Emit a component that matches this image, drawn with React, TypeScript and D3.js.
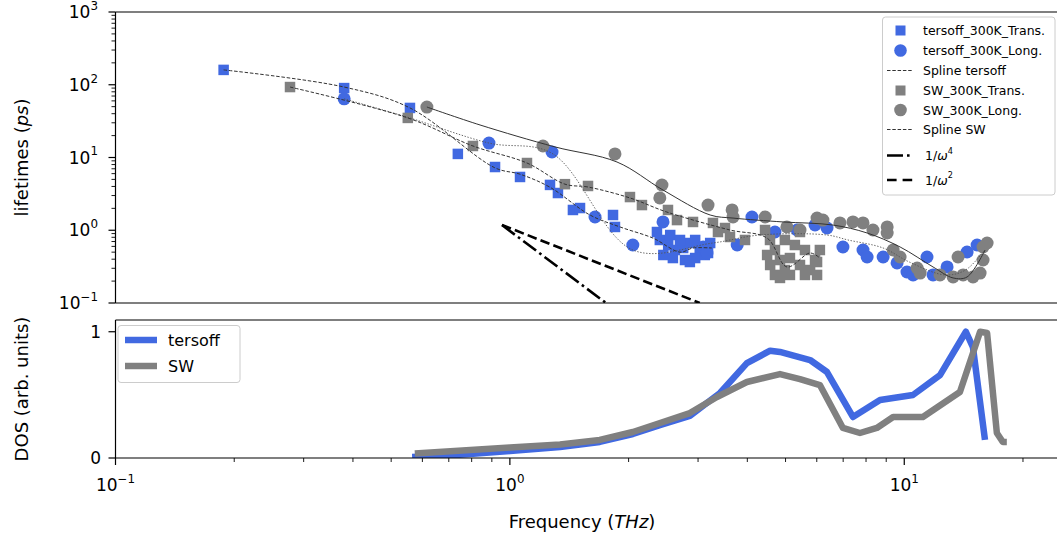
import React from 'react';
import * as d3 from 'd3';

type P = [number, number];

// ---- data: [frequency THz, lifetime ps] ----
const tersoffTrans: P[] = [
  [0.188, 160], [0.38, 90], [0.558, 48], [0.738, 11.2], [0.917, 7.4], [1.061, 5.4],
  [1.264, 4.2], [1.324, 3.25], [1.445, 1.9], [1.506, 2.02], [1.826, 1.62], [1.847, 1.11],
  [2.36, 0.946], [2.4, 0.735], [2.52, 0.627], [2.62, 0.535], [2.75, 0.57], [2.86, 0.668],
  [3.03, 0.57], [3.18, 0.487], [2.45, 0.457], [2.59, 0.415], [2.78, 0.39], [2.95, 0.415],
  [3.12, 0.457], [2.55, 0.86], [2.7, 0.735], [2.95, 0.735], [3.22, 0.668], [2.86, 0.366],
];
const tersoffLong: P[] = [
  [0.38, 64], [0.885, 15.8], [1.279, 11.9], [1.644, 1.52], [2.05, 0.627], [2.445, 1.3],
  [3.09, 0.589], [3.16, 0.487], [3.77, 0.627], [4.11, 1.52], [4.7, 0.946], [5.35, 1.008],
  [5.94, 1.18], [6.37, 1.074], [6.99, 0.589], [7.86, 0.535], [8.05, 0.429], [8.84, 0.429],
  [9.59, 0.355], [10.16, 0.267], [10.53, 0.243], [11.42, 0.429], [11.83, 0.243],
  [12.84, 0.313], [14.43, 0.502], [15.3, 0.627],
];
const swTrans: P[] = [
  [0.277, 93], [0.551, 35], [0.806, 14.4], [1.105, 8.4], [1.379, 4.3], [1.578, 4.06],
  [2.016, 2.86], [2.162, 2.22], [2.517, 1.9], [2.653, 1.38], [2.913, 1.3], [3.273, 1.26],
  [3.511, 1.074], [3.37, 0.946], [3.615, 0.808], [3.946, 0.735], [4.436, 1.008],
  [4.566, 0.735], [4.7, 0.535], [4.84, 0.39], [4.98, 0.284], [5.13, 0.243], [4.7, 0.243],
  [5.44, 0.333], [5.77, 0.284], [6.01, 0.243], [5.28, 0.627], [5.6, 0.535], [5.94, 0.39],
  [4.57, 0.333], [4.98, 0.735], [5.44, 0.946], [6.11, 0.535], [4.49, 0.457], [5.13, 0.415],
  [5.6, 0.243], [4.84, 0.221], [6.01, 0.366],
];
const swLong: P[] = [
  [0.616, 49.4], [1.213, 14.4], [1.847, 11.2], [2.43, 4.19], [2.4, 2.78], [3.18, 2.22],
  [3.66, 1.9], [3.68, 1.52], [4.44, 1.52], [5.04, 1.11], [5.44, 1.008], [6.01, 1.47],
  [6.22, 1.38], [6.87, 1.26], [7.41, 1.3], [7.86, 1.26], [8.33, 1.008], [9.05, 1.11],
  [9.05, 0.917], [9.37, 0.535], [9.76, 0.429], [10.78, 0.303], [10.97, 0.258],
  [12.32, 0.243], [13.3, 0.228], [13.69, 0.429], [14.1, 0.243], [14.94, 0.228],
  [15.84, 0.589], [16.22, 0.668], [15.84, 0.39], [15.57, 0.258],
];

const splineTersoffTrans: P[] = [
  [0.188, 160], [0.38, 93], [0.558, 48], [0.917, 7.2], [1.061, 5.9], [1.264, 3.9],
  [1.596, 1.62], [1.902, 1.11], [2.306, 0.78], [2.7, 0.5], [2.91, 0.57], [3.25, 0.57],
];
const splineTersoffLong: P[] = [
  [0.38, 64], [0.548, 36], [0.885, 15.8], [1.279, 11.4], [2.05, 0.535], [3.27, 0.668],
  [4.3, 0.86], [6.37, 0.86], [7.2, 0.735], [8.84, 0.57], [10.3, 0.366], [12.7, 0.243],
  [14.3, 0.284], [16.0, 0.535],
];
const splineSwTrans: P[] = [
  [0.277, 93], [0.551, 35], [0.806, 14.4], [1.105, 8.4], [1.379, 4.3], [1.578, 3.93],
  [2.016, 2.78], [2.5, 1.78], [3.615, 1.008], [4.49, 0.78], [5.04, 0.313], [5.77, 0.487],
  [6.11, 0.415],
];
const splineSwLong: P[] = [
  [0.616, 49.4], [0.84, 28], [1.3, 14], [1.869, 8.67], [2.445, 3.57], [3.22, 1.62], [3.68, 1.47],
  [4.93, 1.3], [6.59, 1.18], [8.05, 0.917], [9.76, 0.589], [11.83, 0.313], [13.3, 0.221],
  [14.43, 0.228], [16.03, 0.535],
];

const omega4: P[] = [[0.955, 1.18], [1.753, 0.1]];
const omega2: P[] = [[0.955, 1.18], [3.03, 0.1]];

// ---- DOS: [frequency THz, DOS] ----
const dosTersoff: P[] = [
  [0.565, 0.008], [0.705, 0.02], [1.0, 0.055], [1.34, 0.087], [1.69, 0.127], [2.05, 0.19],
  [2.4, 0.261], [2.86, 0.333], [3.41, 0.515], [3.99, 0.752], [4.57, 0.85], [4.84, 0.84],
  [5.77, 0.776], [6.37, 0.681], [7.41, 0.325], [8.68, 0.459], [10.52, 0.499],
  [12.32, 0.657], [14.33, 1.0], [14.93, 0.879], [16.02, 0.143],
];
const dosSW: P[] = [
  [0.574, 0.036], [1.0, 0.083], [1.34, 0.107], [1.69, 0.143], [2.05, 0.206], [2.36, 0.269],
  [2.86, 0.356], [3.35, 0.483], [3.99, 0.602], [4.84, 0.665], [5.44, 0.625], [6.11, 0.578],
  [6.99, 0.238], [7.72, 0.198], [8.52, 0.238], [9.37, 0.325], [11.15, 0.325],
  [13.84, 0.523], [15.57, 1.0], [16.22, 0.99], [17.17, 0.198], [17.78, 0.127], [18.2, 0.127],
];

const xMajorTicks = [0.1, 1, 10];
const xMajorExps = ['\u22121', '0', '1'];
const yMajorTicks = [0.1, 1, 10, 100, 1000];
const yMajorExps = ['\u22121', '0', '1', '2', '3'];
const dosTicks = [0, 1];

const BLUE = '#4169e1';
const GRAY = '#808080';
const FONT = 'DejaVu Sans, sans-serif';

const X0 = 115.5, X1 = 1061.2;
const TY0 = 12, TY1 = 303;
const BY0 = 320, BY1 = 458;

function minorLog(lo: number, hi: number): number[] {
  const out: number[] = [];
  for (let d = Math.floor(Math.log10(lo)); d <= Math.ceil(Math.log10(hi)); d++) {
    for (let k = 2; k <= 9; k++) {
      const v = k * Math.pow(10, d);
      if (v > lo && v < hi) out.push(v);
    }
  }
  return out;
}

function Pow10({ x, y, exp, anchor, size }: { x: number; y: number; exp: string; anchor: string; size: number }) {
  return (
    <text x={x} y={y} textAnchor={anchor as any} fontSize={size} fontFamily={FONT} fill="#000">
      <tspan>10</tspan>
      <tspan dy={-size * 0.48} fontSize={size * 0.7}>{exp}</tspan>
    </text>
  );
}

export default function App() {
  const x = d3.scaleLog().domain([0.1, 25]).range([X0, X1]);
  const yT = d3.scaleLog().domain([0.1, 1000]).range([TY1, TY0]);
  const yB = d3.scaleLinear().domain([0, 1.093]).range([BY1, BY0]);

  const lineT = d3.line<P>().x(d => x(d[0])).y(d => yT(d[1])).curve(d3.curveCatmullRom.alpha(0.5));
  const straightT = d3.line<P>().x(d => x(d[0])).y(d => yT(d[1]));
  const lineB = d3.line<P>().x(d => x(d[0])).y(d => yB(d[1]));

  const SQ = 10.5;
  const R = 6.5;

  const fs = 17;

  const yMinor = minorLog(0.1, 1000);
  const xMinor = minorLog(0.1, 25);

  const squares = (data: P[], color: string) =>
    data.map((d, i) => (
      <rect key={i} x={x(d[0]) - SQ / 2} y={yT(d[1]) - SQ / 2} width={SQ} height={SQ} fill={color} />
    ));
  const circles = (data: P[], color: string) =>
    data.map((d, i) => <circle key={i} cx={x(d[0])} cy={yT(d[1])} r={R} fill={color} />);

  const legY = [30.5, 50.5, 70.5, 90.5, 110, 129.5, 155.5, 180];
  const lfs = 12.5;
  const lx = 900.5;
  const ltx = 923;

  return (
    <svg width={1057} height={541} style={{ position: 'absolute', left: 0, top: 0, background: '#fff' }}
      xmlns="http://www.w3.org/2000/svg">
      <defs>
        <clipPath id="clipTop">
          <rect x={X0} y={TY0} width={X1 - X0} height={TY1 - TY0} />
        </clipPath>
        <clipPath id="clipBot">
          <rect x={X0} y={BY0} width={X1 - X0} height={BY1 - BY0} />
        </clipPath>
      </defs>
      <rect x={0} y={0} width={1057} height={541} fill="#fff" />

      {/* ---------- TOP PANEL ---------- */}
      <g clipPath="url(#clipTop)">
        {squares(tersoffTrans, BLUE)}
        {circles(tersoffLong, BLUE)}
        {squares(swTrans, GRAY)}
        {circles(swLong, GRAY)}
        <path d={lineT(splineTersoffTrans) || ''} fill="none" stroke="#333" strokeWidth={1} strokeDasharray="3.5,1.8" />
        <path d={lineT(splineTersoffLong) || ''} fill="none" stroke="#555" strokeWidth={0.9} strokeDasharray="1.4,1.6" />
        <path d={lineT(splineSwTrans) || ''} fill="none" stroke="#333" strokeWidth={1} strokeDasharray="3.5,1.8" />
        <path d={lineT(splineSwLong) || ''} fill="none" stroke="#333" strokeWidth={1} />
        <path d={straightT(omega4) || ''} fill="none" stroke="#000" strokeWidth={2.6} strokeDasharray="16,4,2.6,4" />
        <path d={straightT(omega2) || ''} fill="none" stroke="#000" strokeWidth={2.6} strokeDasharray="9.6,4.2" />
      </g>

      {/* spines */}
      <g stroke="#000" strokeWidth={1.2} fill="none">
        <line x1={X0} y1={TY0} x2={X1} y2={TY0} />
        <line x1={X0} y1={TY1} x2={X1} y2={TY1} />
        <line x1={X0} y1={TY0} x2={X0} y2={TY1} />
        <line x1={X1} y1={TY0} x2={X1} y2={TY1} />
      </g>
      {/* y ticks top */}
      <g stroke="#000">
        {yMajorTicks.map((t, i) => (
          <line key={'ym' + i} x1={X0 - 7} x2={X0} y1={yT(t)} y2={yT(t)} strokeWidth={1.2} />
        ))}
        {yMinor.map((t, i) => (
          <line key={'yn' + i} x1={X0 - 4} x2={X0} y1={yT(t)} y2={yT(t)} strokeWidth={0.9} />
        ))}
      </g>
      {yMajorTicks.map((t, i) => (
        <Pow10 key={'yl' + i} x={98} y={yT(t) + fs * 0.36} exp={yMajorExps[i]} anchor="end" size={fs} />
      ))}
      <text transform={`translate(28,${(TY0 + TY1) / 2}) rotate(-90)`} textAnchor="middle"
        fontSize={18} fontFamily={FONT}>
        lifetimes (<tspan fontStyle="italic">ps</tspan>)
      </text>

      {/* top legend */}
      <rect x={882.5} y={17} width={172.5} height={178} rx={3} fill="#fff" fillOpacity={0.8} stroke="#ccc" strokeWidth={1} />
      <rect x={lx - 5} y={legY[0] - 5} width={10} height={10} fill={BLUE} />
      <circle cx={lx} cy={legY[1]} r={6.3} fill={BLUE} />
      <line x1={887} x2={913} y1={legY[2]} y2={legY[2]} stroke="#333" strokeWidth={1} strokeDasharray="3.5,1.8" />
      <rect x={lx - 5} y={legY[3] - 5} width={10} height={10} fill={GRAY} />
      <circle cx={lx} cy={legY[4]} r={6.3} fill={GRAY} />
      <line x1={887} x2={913} y1={legY[5]} y2={legY[5]} stroke="#333" strokeWidth={1} strokeDasharray="3.5,1.8" />
      <line x1={887} x2={913} y1={legY[6]} y2={legY[6]} stroke="#000" strokeWidth={2.6} strokeDasharray="16,4,2.6,4" />
      <line x1={887} x2={913} y1={legY[7]} y2={legY[7]} stroke="#000" strokeWidth={2.6} strokeDasharray="9.6,6" />
      {['tersoff_300K_Trans.', 'tersoff_300K_Long.', 'Spline tersoff', 'SW_300K_Trans.', 'SW_300K_Long.', 'Spline SW'].map((s, i) => (
        <text key={'lt' + i} x={ltx} y={legY[i] + lfs * 0.36} fontSize={lfs} fontFamily={FONT} fill="#000">{s}</text>
      ))}
      <text x={ltx + 2} y={legY[6] + lfs * 0.36} fontSize={lfs} fontFamily={FONT}>
        1/<tspan fontStyle="italic">ω</tspan><tspan dy={-lfs * 0.5} fontSize={lfs * 0.65}>4</tspan>
      </text>
      <text x={ltx + 2} y={legY[7] + lfs * 0.36} fontSize={lfs} fontFamily={FONT}>
        1/<tspan fontStyle="italic">ω</tspan><tspan dy={-lfs * 0.5} fontSize={lfs * 0.65}>2</tspan>
      </text>

      {/* ---------- BOTTOM PANEL ---------- */}
      <g clipPath="url(#clipBot)">
        <path d={lineB(dosTersoff) || ''} fill="none" stroke={BLUE} strokeWidth={6.5} strokeLinejoin="round" />
        <path d={lineB(dosSW) || ''} fill="none" stroke={GRAY} strokeWidth={6.5} strokeLinejoin="round" />
      </g>
      <g stroke="#000" strokeWidth={1.2} fill="none">
        <line x1={X0} y1={BY0} x2={X1} y2={BY0} />
        <line x1={X0} y1={BY1} x2={X1} y2={BY1} />
        <line x1={X0} y1={BY0} x2={X0} y2={BY1} />
        <line x1={X1} y1={BY0} x2={X1} y2={BY1} />
      </g>
      <g stroke="#000">
        {dosTicks.map((t, i) => (
          <line key={'dt' + i} x1={X0 - 7} x2={X0} y1={yB(t)} y2={yB(t)} strokeWidth={1.2} />
        ))}
        {xMajorTicks.map((t, i) => (
          <line key={'xm' + i} x1={x(t)} x2={x(t)} y1={BY1} y2={BY1 + 7} strokeWidth={1.2} />
        ))}
        {xMinor.map((t, i) => (
          <line key={'xn' + i} x1={x(t)} x2={x(t)} y1={BY1} y2={BY1 + 4} strokeWidth={0.9} />
        ))}
      </g>
      {dosTicks.map((t, i) => (
        <text key={'dl' + i} x={101} y={yB(t) + fs * 0.36} textAnchor="end" fontSize={fs} fontFamily={FONT}>{t}</text>
      ))}
      {xMajorTicks.map((t, i) => (
        <Pow10 key={'xl' + i} x={x(t)} y={491} exp={xMajorExps[i]} anchor="middle" size={fs} />
      ))}
      <text transform={`translate(28,${(BY0 + BY1) / 2}) rotate(-90)`} textAnchor="middle"
        fontSize={18} fontFamily={FONT}>
        DOS (arb. units)
      </text>
      <text x={582} y={528} textAnchor="middle" fontSize={18} fontFamily={FONT}>
        Frequency (<tspan fontStyle="italic">THz</tspan>)
      </text>

      {/* bottom legend */}
      <rect x={118} y={325.5} width={122} height={57} rx={3} fill="#fff" fillOpacity={0.8} stroke="#ccc" strokeWidth={1} />
      <line x1={125} x2={157} y1={340} y2={340} stroke={BLUE} strokeWidth={6.5} />
      <line x1={125} x2={157} y1={366} y2={366} stroke={GRAY} strokeWidth={6.5} />
      <text x={168} y={340 + 6} fontSize={16} fontFamily={FONT}>tersoff</text>
      <text x={168} y={366 + 6} fontSize={16} fontFamily={FONT}>SW</text>
    </svg>
  );
}
